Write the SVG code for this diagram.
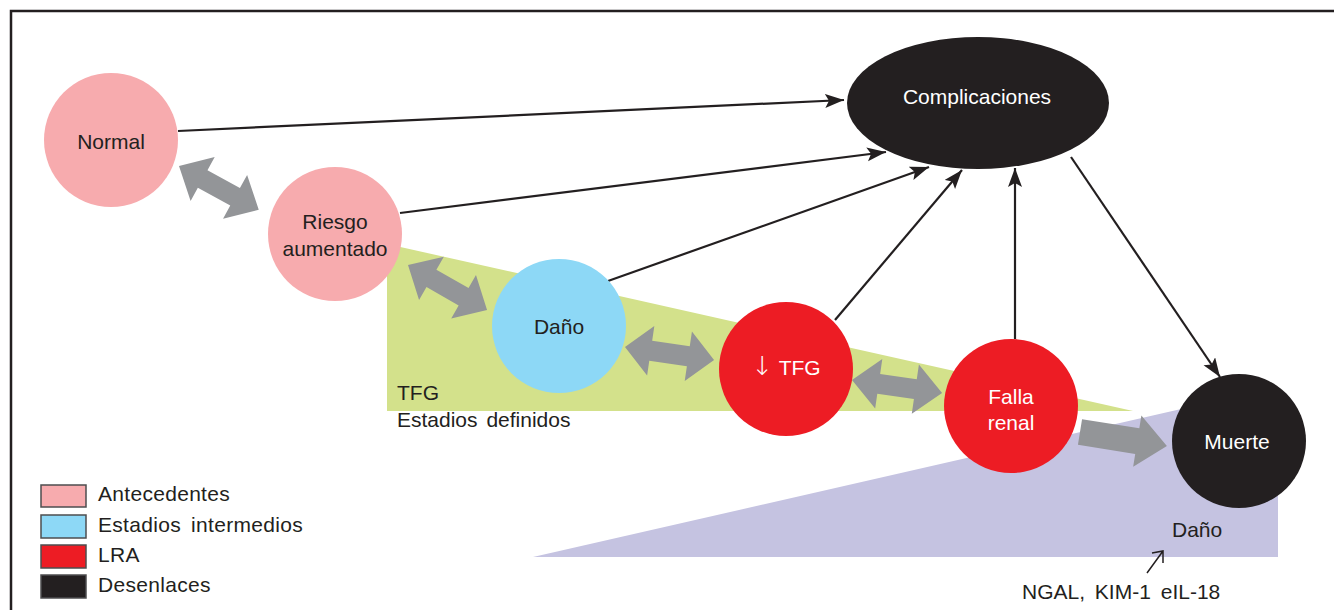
<svg xmlns="http://www.w3.org/2000/svg" width="1334" height="610" viewBox="0 0 1334 610">
<style>
text{font-family:"Liberation Sans",Arial,sans-serif;font-size:21px;fill:#231f20}
.w{fill:#ffffff}
.c{text-anchor:middle}
.ln{stroke:#231f20;stroke-width:2.2;fill:none;marker-end:url(#ah)}
.ga{fill:#939598}
.pink{fill:#f7abae}
.blue{fill:#8dd8f6}
.red{fill:#ed1c24}
.blk{fill:#231f20}
.lg{stroke:#4d4d4f;stroke-width:1.5}
</style>
<defs>
<marker id="ah" markerUnits="userSpaceOnUse" markerWidth="20" markerHeight="16" refX="19" refY="7" orient="auto">
<path d="M0,0 L19,7 L0,14 L4,7 z" fill="#231f20"/>
</marker>
</defs>
<rect width="1334" height="610" fill="#ffffff"/>
<polyline points="11,610 11,11 1334,11" fill="none" stroke="#231f20" stroke-width="2.5"/>
<g id="bands">
<polygon points="387,244 387,411 1133,411" fill="#d3e18b"/>
<polygon points="533,557 1278,557 1278,387" fill="#c5c3e1"/>
<text x="397" y="400">TFG</text>
<text x="397" y="427" word-spacing="3">Estadios definidos</text>
<text x="1172" y="537">Daño</text>
<text x="1022" y="599" word-spacing="4">NGAL, KIM-1 eIL-18</text>
<path d="M1147,573 L1163,551 M1152,553 L1163,551 L1163,563" fill="none" stroke="#231f20" stroke-width="1.5"/>
</g>
<g id="connectors">
<polygon class="ga" transform="translate(179,166) rotate(28.8)" points="0,0 27,-25 27,-10 64,-10 64,-25 91,0 64,25 64,10 27,10 27,25"/>
<polygon class="ga" transform="translate(408,265) rotate(29.7)" points="0,0 27,-25 27,-10 64,-10 64,-25 91,0 64,25 64,10 27,10 27,25"/>
<polygon class="ga" transform="translate(625,347) rotate(8.3)" points="0,0 26,-25 26,-10 64,-10 64,-25 90,0 64,25 64,10 26,10 26,25"/>
<polygon class="ga" transform="translate(852,380) rotate(8.2)" points="0,0 27,-25 27,-10 64,-10 64,-25 91,0 64,25 64,10 27,10 27,25"/>
<polygon class="ga" transform="translate(1080,432) rotate(9.1)" points="0,-13 58,-13 58,-26 88,0 58,26 58,13 0,13"/>
<line class="ln" x1="178" y1="131" x2="844" y2="100"/>
<line class="ln" x1="400" y1="213" x2="886" y2="152"/>
<line class="ln" x1="608" y1="281" x2="929" y2="167"/>
<line class="ln" x1="835" y1="320" x2="962" y2="170"/>
<line class="ln" x1="1015" y1="339" x2="1015" y2="168"/>
<line class="ln" x1="1071" y1="157" x2="1220" y2="377"/>
</g>
<g id="normal">
<circle class="pink" cx="111" cy="140" r="67"/>
<text class="c" x="111" y="149">Normal</text>
</g>
<g id="riesgo">
<circle class="pink" cx="335" cy="234" r="67"/>
<text class="c" x="335" y="229">Riesgo</text>
<text class="c" x="335" y="256">aumentado</text>
</g>
<g id="dano">
<circle class="blue" cx="559" cy="326" r="67"/>
<text class="c" x="559" y="334">Daño</text>
</g>
<g id="tfg">
<circle class="red" cx="786" cy="369" r="67"/>
<text class="c w" x="786" y="375"><tspan font-size="26" font-family="DejaVu Sans, sans-serif" font-weight="200">↓</tspan> TFG</text>
</g>
<g id="falla">
<circle class="red" cx="1011" cy="406" r="67"/>
<text class="c w" x="1011" y="404">Falla</text>
<text class="c w" x="1011" y="430">renal</text>
</g>
<g id="muerte">
<circle class="blk" cx="1239" cy="441" r="67"/>
<text class="c w" x="1237" y="449">Muerte</text>
</g>
<g id="complicaciones">
<ellipse class="blk" cx="978" cy="103" rx="131" ry="66"/>
<text class="c w" x="977" y="104">Complicaciones</text>
</g>
<g id="legend">
<rect class="pink lg" x="41" y="485" width="45" height="22"/>
<rect class="blue lg" x="41" y="515" width="45" height="23"/>
<rect class="red lg" x="41" y="545" width="45" height="23"/>
<rect class="blk lg" x="41" y="575" width="45" height="23"/>
<text x="98" y="501" letter-spacing="0.3">Antecedentes</text>
<text x="98" y="532" letter-spacing="0.3" word-spacing="4">Estadios intermedios</text>
<text x="98" y="562" letter-spacing="0.3">LRA</text>
<text x="98" y="592" letter-spacing="0.3">Desenlaces</text>
</g>
</svg>
